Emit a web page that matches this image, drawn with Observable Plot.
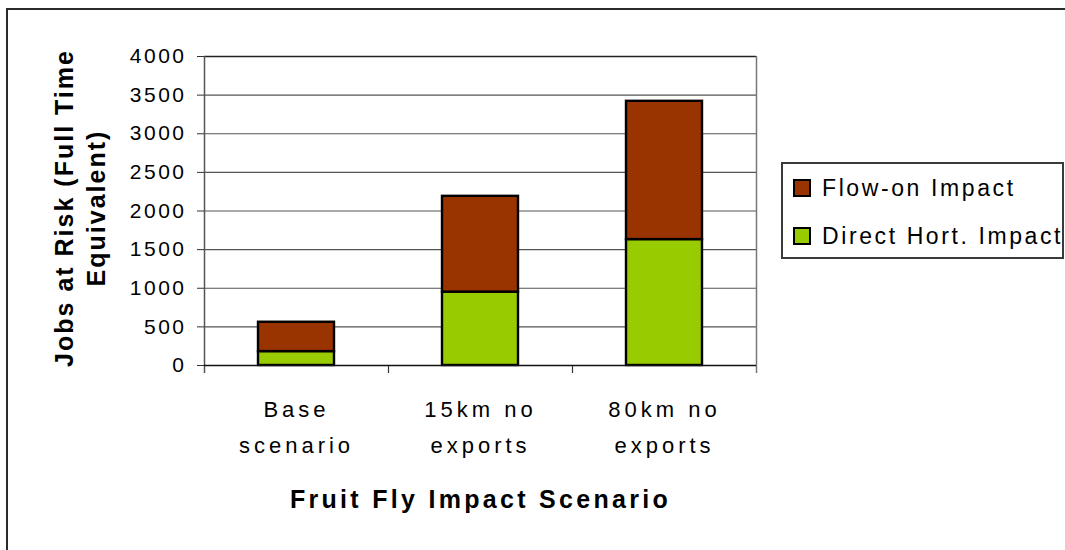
<!DOCTYPE html>
<html>
<head>
<meta charset="utf-8">
<script src="https://cdn.jsdelivr.net/npm/d3@7"></script>
<script src="https://cdn.jsdelivr.net/npm/@observablehq/plot@0.6"></script>
<style>
  html, body { margin: 0; padding: 0; background: #fff; overflow: hidden; }
  #wrap { position: relative; width: 1065px; height: 550px; font-family: "Liberation Sans", Arial, sans-serif; }
  #border { position: absolute; left: 6px; top: 8px; width: 1200px; height: 700px; border: 2px solid #2b2b2b; box-sizing: border-box; pointer-events: none; }
  #chart { position: absolute; left: 0; top: 0; }
  #chart svg { font-family: "Liberation Sans", Arial, sans-serif; }
  g[aria-label="y-axis tick label"] text { letter-spacing: 2.5px; }
  #legend { position: absolute; left: 781px; top: 162px; width: 283px; height: 97px; border: 2px solid #3a3a3a; box-sizing: border-box; background: #fff; }
  .item { position: absolute; left: 10px; height: 24px; display: flex; align-items: center; }
  .swatch { width: 18px; height: 18px; border: 2px solid #000; box-sizing: border-box; margin-right: 11px; }
  .label { font-size: 23px; letter-spacing: 2.6px; color: #000; white-space: nowrap; }
</style>
</head>
<body>
<div id="wrap">
  <div id="chart"></div>
  <div id="legend"></div>
  <div id="border"></div>
</div>
<script>
// Jobs at risk (full time equivalent) by fruit fly impact scenario
const categories = ["Base scenario", "15km no exports", "80km no exports"];
const categoryLines = ["Base\nscenario", "15km no\nexports", "80km no\nexports"];
const directHort = [180, 950, 1630];
const flowOn = [380, 1240, 1790];
const seriesNames = ["Direct Hort. Impact", "Flow-on Impact"];
const seriesColors = ["#99cc00", "#993300"];
const yTicks = [0, 500, 1000, 1500, 2000, 2500, 3000, 3500, 4000];

const rows = [];
categories.forEach((c, i) => {
  rows.push({scenario: c, series: seriesNames[0], jobs: directHort[i]});
  rows.push({scenario: c, series: seriesNames[1], jobs: flowOn[i]});
});

const W = 1065, H = 550;
const margin = {left: 204, right: 309, top: 56, bottom: 185};
const step = (W - margin.left - margin.right) / categories.length;

const chart = Plot.plot({
  width: W,
  height: H,
  marginLeft: margin.left,
  marginRight: margin.right,
  marginTop: margin.top,
  marginBottom: margin.bottom,
  style: {background: "transparent", fontFamily: "Liberation Sans, Arial, sans-serif", overflow: "visible"},
  x: {domain: categories, paddingInner: 0.587, paddingOuter: 0.2935, axis: null},
  y: {domain: [0, 4000], axis: null},
  color: {domain: seriesNames, range: seriesColors},
  marks: [
    // horizontal gridlines
    Plot.ruleY(yTicks, {stroke: "#555", strokeWidth: 1.2}),
    Plot.ruleY([4000], {stroke: "#222", strokeWidth: 1.6}),
    // left axis line and right plot edge
    Plot.ruleX([categories[0]], {x: d => d, dx: -step / 2, y1: 4000, y2: 0, insetBottom: -8, stroke: "#555", strokeWidth: 1.5}),
    Plot.ruleX([categories[categories.length - 1]], {x: d => d, dx: step / 2, y1: 4000, y2: 0, insetBottom: -8, stroke: "#777", strokeWidth: 1.5}),
    // category separator ticks
    Plot.ruleX(categories.slice(1), {x: d => d, dx: -step / 2, y1: 0, y2: 0, insetBottom: -8, stroke: "#333", strokeWidth: 1.2}),
    // stacked bars
    Plot.rectY(rows, {x: "scenario", y: "jobs", fill: "series", stroke: "#000", strokeWidth: 2.4}),
    // baseline
    Plot.ruleY([0], {stroke: "#111", strokeWidth: 1.5}),
    Plot.axisY(yTicks, {
      tickSize: 7, tickPadding: 11, fontSize: 21, tickFormat: d => String(d),
      stroke: "#333", fill: "#000", label: null
    }),
    Plot.text(categoryLines, {
      x: (d, i) => categories[i], frameAnchor: "bottom", text: d => d,
      lineAnchor: "top", dy: 26, fontSize: 22, lineHeight: 1.64, fill: "#000"
    }),
    Plot.text(["Fruit Fly Impact Scenario"], {
      frameAnchor: "bottom", lineAnchor: "top", dy: 125, fontSize: 25,
      fontWeight: "bold", fill: "#000"
    }),
    Plot.text(["Jobs at Risk (Full Time\nEquivalent)"], {
      frameAnchor: "left", textAnchor: "middle", rotate: -90, lineAnchor: "top", dx: -154, dy: -3,
      fontSize: 25, fontWeight: "bold", lineHeight: 1.28, fill: "#000"
    })
  ]
});
document.getElementById("chart").appendChild(chart);

// letter spacing for the three text marks: category labels, x title, y title
const textGroups = chart.querySelectorAll('g[aria-label="text"]');
const spacings = ["4px", "3.3px", "2px"];
textGroups.forEach((g, i) => { if (spacings[i]) g.style.letterSpacing = spacings[i]; });

// legend, top entry is the top of each stack
const legend = document.getElementById("legend");
const order = [1, 0];
order.forEach((k, j) => {
  const item = document.createElement("div");
  item.className = "item";
  item.style.top = (12 + j * 48) + "px";
  const sw = document.createElement("div");
  sw.className = "swatch";
  sw.style.background = seriesColors[k];
  const lb = document.createElement("span");
  lb.className = "label";
  lb.textContent = seriesNames[k];
  item.appendChild(sw);
  item.appendChild(lb);
  legend.appendChild(item);
});
</script>
</body>
</html>
